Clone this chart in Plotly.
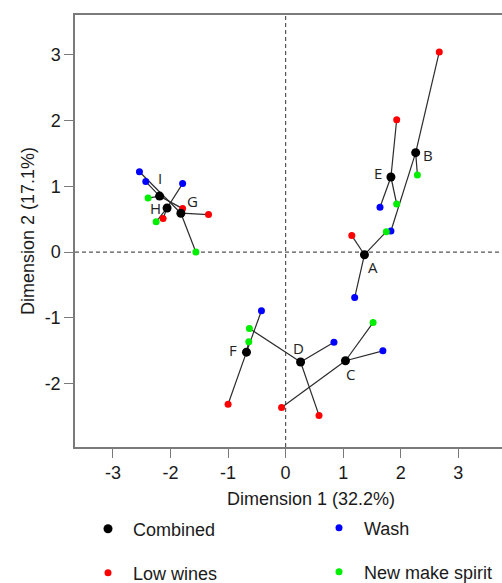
import plotly.graph_objects as go

# ---- data ----
samples = ["A", "B", "C", "D", "E", "F", "G", "H", "I"]
combined_x = [1.37, 2.26, 1.04, 0.26, 1.83, -0.68, -1.82, -2.06, -2.19]
combined_y = [-0.04, 1.51, -1.65, -1.67, 1.14, -1.52, 0.59, 0.67, 0.85]
wash_x = [1.20, 1.83, 1.69, 0.84, 1.64, -0.42, -2.54, -1.79, -2.43]
wash_y = [-0.69, 0.32, -1.50, -1.37, 0.68, -0.89, 1.22, 1.04, 1.07]
lowwines_x = [1.15, 2.67, -0.07, 0.58, 1.93, -1.00, -1.34, -2.13, -1.79]
lowwines_y = [0.25, 3.04, -2.36, -2.48, 2.01, -2.31, 0.57, 0.51, 0.66]
nms_x = [1.75, 2.29, 1.52, -0.63, 1.93, -0.64, -1.56, -2.25, -2.39]
nms_y = [0.31, 1.17, -1.07, -1.16, 0.73, -1.36, 0.00, 0.46, 0.82]

x_ticks = [-3, -2, -1, 0, 1, 2, 3]
x_ticktext = ["-3", "-2", "-1", "0", "1", "2", "3"]
y_ticks = [-2, -1, 0, 1, 2, 3]
y_ticktext = ["-2", "-1", "0", "1", "2", "3"]

# label offsets (pixels) for sample letters
label_dx = [9, 12, 5, -2, -13, -13, 12, -12, 0]
label_dy = [-12, -2, -13, 14, 4, 2, 12, 0, 18]

W, H = 502, 583
L, R, T, B = 75, 0, 15, 136
pw, ph = W - L - R, H - T - B

FONT = "Liberation Sans, Arial, sans-serif"
AX = "#7a7a7a"

# segments combined -> each component
seg_x, seg_y = [], []
for i in range(len(samples)):
    for cx, cy in ((wash_x, wash_y), (lowwines_x, lowwines_y), (nms_x, nms_y)):
        seg_x += [combined_x[i], cx[i], None]
        seg_y += [combined_y[i], cy[i], None]

fig = go.Figure()
fig.add_trace(go.Scatter(x=seg_x, y=seg_y, mode="lines",
                         line=dict(color="#2b2b2b", width=1.2),
                         showlegend=False, hoverinfo="skip"))
fig.add_trace(go.Scatter(x=wash_x, y=wash_y, mode="markers", name="Wash",
                         marker=dict(color="#0000FF", size=7), legend="legend2"))
fig.add_trace(go.Scatter(x=lowwines_x, y=lowwines_y, mode="markers", name="Low wines",
                         marker=dict(color="#FF0000", size=7), legend="legend3"))
fig.add_trace(go.Scatter(x=nms_x, y=nms_y, mode="markers", name="New make spirit",
                         marker=dict(color="#00EE00", size=7), legend="legend4"))
fig.add_trace(go.Scatter(x=combined_x, y=combined_y, mode="markers", name="Combined",
                         marker=dict(color="#000000", size=9), legend="legend"))

annotations = []
for i, s in enumerate(samples):
    annotations.append(dict(x=combined_x[i], y=combined_y[i], xref="x", yref="y",
                            text=s, showarrow=False, xshift=label_dx[i], yshift=label_dy[i],
                            font=dict(family="Open Sans, sans-serif", size=15, color="#222")))
annotations.append(dict(x=(311 - L) / pw, y=(T + ph - 499) / ph, xref="paper", yref="paper",
                        text="Dimension 1 (32.2%)", showarrow=False,
                        xanchor="center", yanchor="middle",
                        font=dict(family=FONT, size=18, color="#1a1a1a")))
annotations.append(dict(x=(28 - L) / pw, y=0.5, xref="paper", yref="paper",
                        text="Dimension 2 (17.1%)", showarrow=False, textangle=-90,
                        xanchor="center", yanchor="middle",
                        font=dict(family=FONT, size=18, color="#1a1a1a")))

shapes = [
    dict(type="line", xref="x", yref="paper", x0=0, x1=0, y0=0, y1=1,
         line=dict(color="#555", width=1.2, dash="4px,3px"), layer="below"),
    dict(type="line", xref="paper", yref="y", x0=0, x1=1, y0=0, y1=0,
         line=dict(color="#555", width=1.2, dash="4px,3px"), layer="below"),
]


def leg(px, py):
    return dict(orientation="h", font=dict(family=FONT, size=18, color="#1a1a1a"),
                bgcolor="rgba(0,0,0,0)", xref="container", yref="container",
                x=px / W, y=1 - py / H, xanchor="left", yanchor="middle",
                itemwidth=40)


fig.update_layout(
    width=W, height=H,
    margin=dict(l=L, r=R, t=T, b=B, autoexpand=False),
    paper_bgcolor="white", plot_bgcolor="white",
    xaxis=dict(range=[-3.66, 3.76], tickvals=x_ticks, ticktext=x_ticktext,
               showgrid=False, zeroline=False,
               showline=True, linecolor=AX, linewidth=1.5, mirror=True,
               ticks="outside", ticklen=9, tickcolor=AX, tickwidth=1.2,
               tickfont=dict(family=FONT, size=18, color="#1a1a1a")),
    yaxis=dict(range=[-2.96, 3.60], tickvals=y_ticks, ticktext=y_ticktext,
               showgrid=False, zeroline=False,
               showline=True, linecolor=AX, linewidth=1.5,
               ticks="outside", ticklen=9, tickcolor=AX, tickwidth=1.2,
               tickfont=dict(family=FONT, size=18, color="#1a1a1a")),
    legend=leg(83, 529),
    legend2=leg(314, 528),
    legend3=leg(83, 573),
    legend4=leg(314, 572),
    annotations=annotations,
    shapes=shapes,
)

fig.write_html("out.html")
